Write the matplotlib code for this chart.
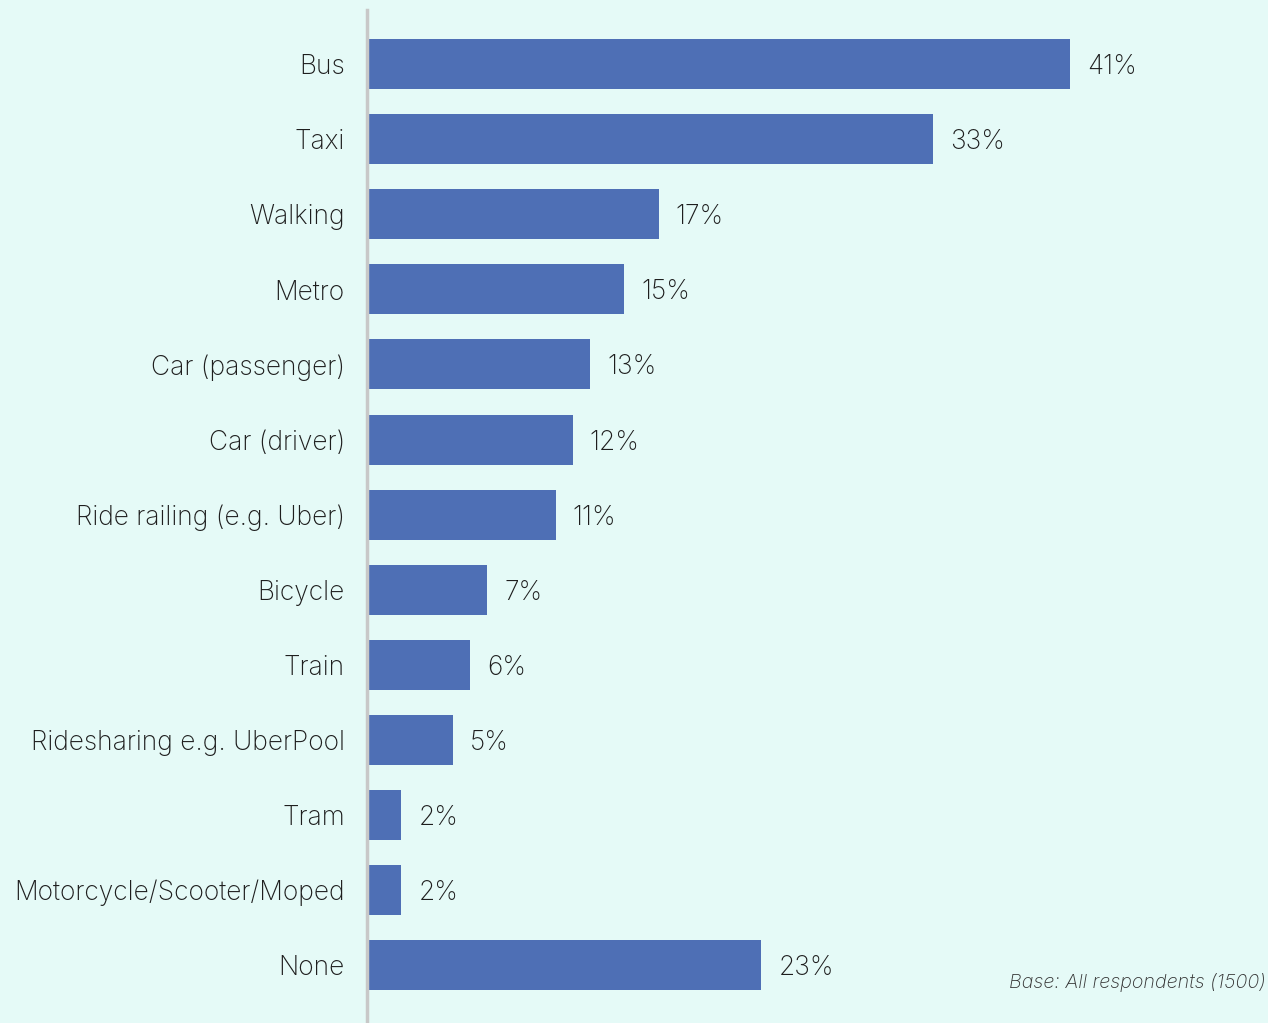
import matplotlib
matplotlib.use("Agg")
import matplotlib.pyplot as plt

categories = ["Bus", "Taxi", "Walking", "Metro", "Car (passenger)", "Car (driver)",
              "Ride railing (e.g. Uber)", "Bicycle", "Train", "Ridesharing e.g. UberPool",
              "Tram", "Motorcycle/Scooter/Moped", "None"]
values = [41, 33, 17, 15, 13, 12, 11, 7, 6, 5, 2, 2, 23]
value_labels = [f"{v}%" for v in values]
note = "Base: All respondents (1500)"

BG = "#E5FAF7"
BAR = "#4E6FB5"
TXT = "#1E1E1E"
FONT = ["Inter", "DejaVu Sans"]

W, H = 1268, 1023
fig = plt.figure(figsize=(W / 100, H / 100), dpi=100, facecolor=BG)
ax_left = 367 / W
ax = fig.add_axes([ax_left, 0, 1 - ax_left, 1 - 10 / H])
ax.set_facecolor(BG)

pos = list(range(len(categories)))
ax.barh(pos, values, height=0.666, color=BAR, zorder=2)
ax.set_ylim(len(categories) - 1 + 0.77, -0.72)
ax.set_xlim(0, (W - 367) / 17.15)

for s in ["top", "right", "bottom"]:
    ax.spines[s].set_visible(False)
ax.spines["left"].set_color("#C8C8C8")
ax.spines["left"].set_linewidth(2.5)
ax.spines["left"].set_zorder(3)
ax.set_xticks([])
ax.set_yticks(pos)
ax.set_yticklabels(categories, fontsize=19, color=TXT, family=FONT, weight="light")
ax.tick_params(axis="y", length=0, pad=16)

for p, v, lab in zip(pos, values, value_labels):
    ax.annotate(lab, (v, p), xytext=(17, 0), textcoords="offset pixels",
                va="center_baseline", ha="left", fontsize=19, color=TXT,
                family=FONT, weight="light")

fig.text(1266 / W, 1 - 983 / H, note, ha="right", va="center", fontsize=14.2,
         style="italic", color="#333333", family=FONT, weight="light")

fig.savefig("out.png", dpi=100, facecolor=BG)
